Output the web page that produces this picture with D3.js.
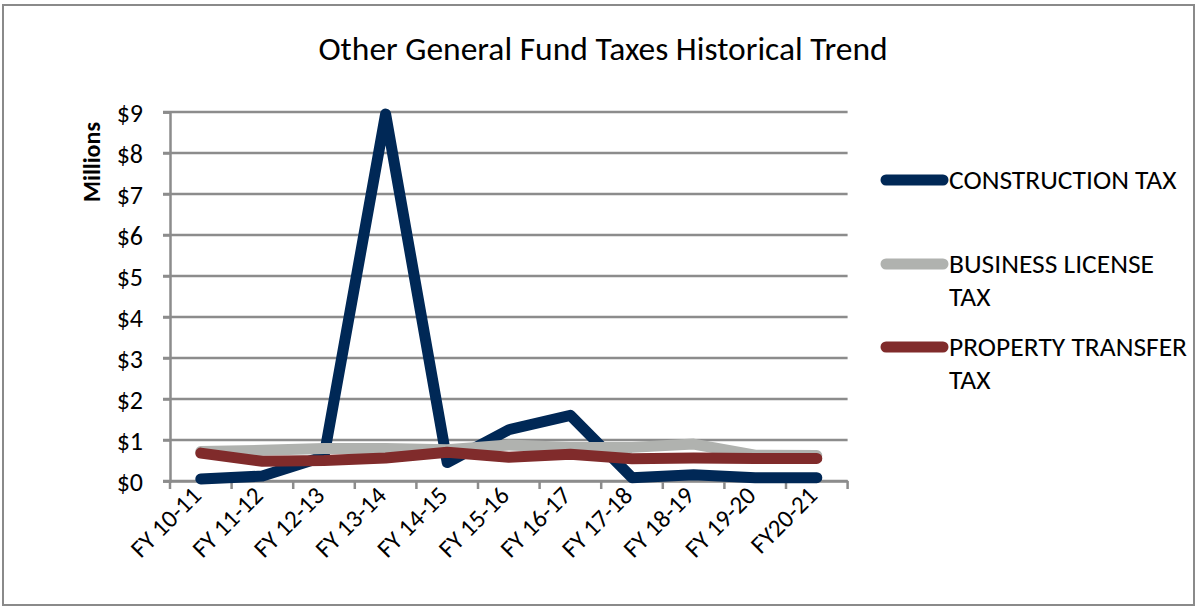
<!DOCTYPE html>
<html><head><meta charset="utf-8">
<script src="https://cdn.jsdelivr.net/npm/d3@7"></script>
<style>
html,body{margin:0;padding:0;background:#fff;}
text{font-family:Carlito, Calibri, Lato, "Open Sans", sans-serif;fill:#000;}
</style></head>
<body>
<svg id="c" width="1198" height="609"></svg>
<script>
const categories = ["FY 10-11","FY 11-12","FY 12-13","FY 13-14","FY 14-15","FY 15-16","FY 16-17","FY 17-18","FY 18-19","FY 19-20","FY20-21"];
const construction = [0.05, 0.12, 0.6, 8.95, 0.45, 1.25, 1.6, 0.08, 0.15, 0.08, 0.08];
const business = [0.72, 0.75, 0.79, 0.79, 0.76, 0.88, 0.82, 0.82, 0.9, 0.63, 0.62];
const property = [0.68, 0.48, 0.5, 0.56, 0.7, 0.58, 0.65, 0.54, 0.56, 0.55, 0.55];
const yTicks = [0,1,2,3,4,5,6,7,8,9];
const seriesNames = ["CONSTRUCTION TAX", "BUSINESS LICENSE TAX", "PROPERTY TRANSFER TAX"];
const seriesColors = ["#002856", "#b0b2af", "#802b2b"];

const svg = d3.select("#c");
svg.append("rect").attr("x",3).attr("y",5).attr("width",1191).attr("height",600)
  .attr("fill","#fff").attr("stroke","#8a8a8a").attr("stroke-width",2);

svg.append("text").attr("x",603).attr("y",60).attr("text-anchor","middle")
  .style("font-size","33.5px").text("Other General Fund Taxes Historical Trend");

const x = d3.scaleBand().domain(categories).range([170, 847.6]);
const y = d3.scaleLinear().domain([0, 9]).range([481, 112]);

// gridlines
svg.append("g").selectAll("line").data(yTicks).join("line")
  .attr("x1",163).attr("x2",847.6).attr("y1",d=>y(d)).attr("y2",d=>y(d))
  .attr("stroke","#8c8c8c").attr("stroke-width",2.5);

// y axis
const yAxis = svg.append("g").attr("transform","translate(170,0)")
  .call(d3.axisLeft(y).tickValues(yTicks).tickSize(7).tickFormat(d=>"$"+d));
yAxis.select(".domain").attr("stroke","#8c8c8c").attr("stroke-width",2.5);
yAxis.selectAll(".tick line").attr("stroke","#8c8c8c").attr("stroke-width",2.5);
yAxis.selectAll(".tick text").attr("x",-27).attr("dy","0.35em").style("font-size","26px").style("font-family","Carlito, Calibri, Lato, sans-serif").attr("fill","#000");

svg.append("text").attr("transform","translate(100,162) rotate(-90)")
  .attr("text-anchor","middle").style("font-size","24px").style("font-weight","bold").text("Millions");

// x axis
const xAxis = svg.append("g").attr("transform","translate(0,481)")
  .call(d3.axisBottom(x).tickSize(0).tickSizeOuter(0));
xAxis.select(".domain").attr("stroke","#8c8c8c").attr("stroke-width",2.5);
xAxis.selectAll(".tick text").remove();
const bounds = categories.map(c=>x(c)).concat([x.range()[1]]);
xAxis.selectAll("line.bt").data(bounds).join("line").attr("class","bt")
  .attr("x1",d=>d).attr("x2",d=>d).attr("y1",0).attr("y2",8)
  .attr("stroke","#8c8c8c").attr("stroke-width",2.5);
svg.append("g").selectAll("text").data(categories).join("text")
  .attr("transform",d=>`translate(${x(d)+x.bandwidth()/2+2},${497}) rotate(-45)`)
  .attr("text-anchor","end").style("font-size","25px").text(d=>d);

// lines
const line = d3.line().x((d,i)=>x(categories[i])+x.bandwidth()/2).y(d=>y(d));
[construction, business, property].forEach((s,k)=>{
  svg.append("path").datum(s).attr("d",line).attr("fill","none")
    .attr("stroke",seriesColors[k]).attr("stroke-width",11)
    .attr("stroke-linejoin","round").attr("stroke-linecap","round");
});

// legend
const legY = [180, 264, 347];
const legLines = [["CONSTRUCTION TAX"],["BUSINESS LICENSE","TAX"],["PROPERTY TRANSFER","TAX"]];
legY.forEach((ly,k)=>{
  svg.append("line").attr("x1",886).attr("x2",943).attr("y1",ly).attr("y2",ly)
    .attr("stroke",seriesColors[k]).attr("stroke-width",11).attr("stroke-linecap","round");
  const t = svg.append("text").attr("x",949).attr("y",ly+9).style("font-size","27.5px");
  legLines[k].forEach((s,j)=>{
    t.append("tspan").attr("x",949).attr("dy", j===0?0:33).text(s);
  });
});
</script>
</body></html>
